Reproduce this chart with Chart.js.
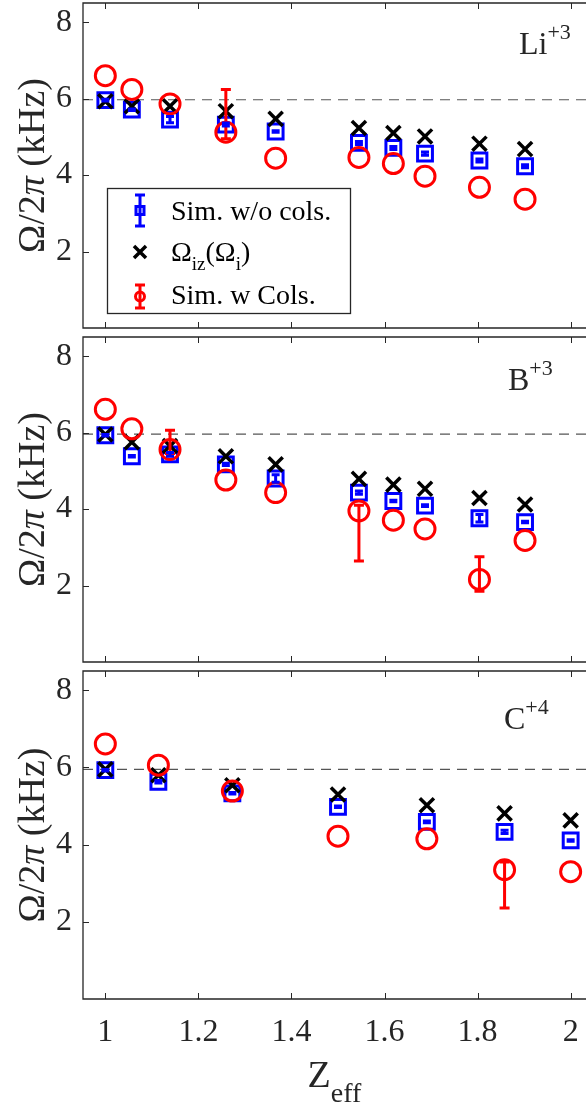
<!DOCTYPE html>
<html>
<head>
<meta charset="utf-8">
<script src="https://cdn.jsdelivr.net/npm/chart.js@4"></script>
<style>
  body { margin: 0; background: #fff; width: 586px; height: 1109px; overflow: hidden; position: relative; }
  canvas { position: absolute; left: 0; }
</style>
</head>
<body>
<canvas id="liChart" width="586" height="331" style="top:0"></canvas>
<canvas id="bChart" width="586" height="331" style="top:334px"></canvas>
<canvas id="cChart" width="586" height="441" style="top:668px"></canvas>
<script>
// Z_eff positions
const zLi = [1.0, 1.057, 1.139, 1.259, 1.366, 1.545, 1.619, 1.687, 1.804, 1.902];
const zB = [1.0, 1.057, 1.139, 1.259, 1.366, 1.545, 1.619, 1.687, 1.804, 1.902];
const zC = [1.0, 1.114, 1.273, 1.5, 1.691, 1.858, 2.0];

// Li+3
const noColLi = [5.96, 5.71, 5.45, 5.32, 5.14, 4.84, 4.71, 4.56, 4.38, 4.23];
const noColErrLi = [0.02, 0.02, 0.08, 0.04, 0.02, 0.04, 0.04, 0.04, 0.04, 0.04];
const omegaLi = [5.93, 5.80, 5.80, 5.67, 5.47, 5.23, 5.10, 5.01, 4.82, 4.68];
const colLi = [6.60, 6.24, 5.86, 5.12, 4.44, 4.46, 4.30, 3.97, 3.68, 3.37];
const colErrLoLi = [0, 0, 0, 0.17, 0, 0, 0, 0, 0, 0];
const colErrHiLi = [0, 0, 0, 1.12, 0, 0, 0, 0, 0, 0];

// B+3
const noColB = [5.93, 5.38, 5.43, 5.17, 4.80, 4.43, 4.21, 4.09, 3.76, 3.66];
const noColErrB = [0.02, 0.02, 0.05, 0.03, 0.10, 0.04, 0.02, 0.02, 0.10, 0.02];
const omegaB = [5.95, 5.75, 5.65, 5.38, 5.17, 4.79, 4.64, 4.53, 4.29, 4.12];
const colB = [6.61, 6.10, 5.56, 4.76, 4.43, 3.95, 3.71, 3.48, 2.16, 3.18];
const colErrLoB = [0, 0, 0.11, 0, 0, 1.31, 0, 0, 0.31, 0];
const colErrHiB = [0, 0, 0.50, 0, 0, 0.15, 0, 0, 0.59, 0];

// C+4
const noColC = [5.93, 5.63, 5.33, 4.98, 4.59, 4.33, 4.11];
const noColErrC = [0.02, 0.03, 0.02, 0.02, 0.02, 0.04, 0.02];
const omegaC = [5.95, 5.80, 5.54, 5.30, 5.02, 4.81, 4.63];
const colC = [6.61, 6.06, 5.39, 4.22, 4.15, 3.35, 3.30];
const colErrLoC = [0, 0, 0, 0, 0, 0.99, 0];
const colErrHiC = [0, 0, 0, 0, 0, 0.20, 0];

// dashed reference level in each panel
const refLevel = [5.97, 5.96, 5.95];

const xTickValues = [1, 1.2, 1.4, 1.6, 1.8, 2];
const yTickValues = [2, 4, 6, 8];
const xMin = 0.952, xMax = 2.033;

const serif = "'Liberation Serif', 'Times New Roman', serif";
const axisColor = "#262626";

function zip(xs, ys) {
  return xs.map((x, i) => ({ x: x, y: ys[i] }));
}

function drawErrBar(ctx, x, y1, y2, cap) {
  ctx.beginPath();
  ctx.moveTo(x, y1); ctx.lineTo(x, y2);
  ctx.moveTo(x - cap, y1); ctx.lineTo(x + cap, y1);
  ctx.moveTo(x - cap, y2); ctx.lineTo(x + cap, y2);
  ctx.stroke();
}

function drawRich(ctx, parts, x, y) {
  // parts: [text, font, dy]
  parts.forEach(p => {
    ctx.font = p[1];
    ctx.fillText(p[0], x, y + (p[2] || 0));
    x += ctx.measureText(p[0]).width;
  });
  return x;
}

const decor = {
  id: "panelDecor",
  afterDatasetsDraw(chart, args, opts) {
    const ctx = chart.ctx;
    const xs = chart.scales.x, ys = chart.scales.y;
    // error bars
    chart.data.datasets.forEach(ds => {
      if (!ds.errLo) return;
      ctx.save();
      ctx.strokeStyle = ds.borderColor;
      ctx.lineWidth = ds.errWidth;
      ds.data.forEach((p, i) => {
        const lo = ds.errLo[i], hi = ds.errHi[i];
        if (!lo && !hi) return;
        drawErrBar(ctx, xs.getPixelForValue(p.x), ys.getPixelForValue(p.y - lo),
          ys.getPixelForValue(p.y + hi), ds.errCap);
      });
      ctx.restore();
    });
  },
  afterDraw(chart, args, opts) {
    const ctx = chart.ctx;
    const a = chart.chartArea;
    const xs = chart.scales.x, ys = chart.scales.y;
    ctx.save();
    // frame
    ctx.strokeStyle = axisColor;
    ctx.lineWidth = 1.3;
    ctx.beginPath();
    ctx.moveTo(a.right + 2, a.top); ctx.lineTo(a.left, a.top);
    ctx.lineTo(a.left, a.bottom); ctx.lineTo(a.right + 2, a.bottom);
    ctx.stroke();
    // inward ticks
    ctx.lineWidth = 1;
    ctx.beginPath();
    xTickValues.forEach(v => {
      const px = Math.round(xs.getPixelForValue(v)) + 0.5;
      ctx.moveTo(px, a.top); ctx.lineTo(px, a.top + 6);
      ctx.moveTo(px, a.bottom); ctx.lineTo(px, a.bottom - 6);
    });
    yTickValues.forEach(v => {
      const py = Math.round(ys.getPixelForValue(v)) + 0.5;
      ctx.moveTo(a.left, py); ctx.lineTo(a.left + 6, py);
    });
    ctx.stroke();

    // y title
    ctx.fillStyle = axisColor;
    ctx.textBaseline = "alphabetic";
    const tf = "38px " + serif, ti = "italic 38px " + serif;
    const parts = [["\u03A9/2", tf], ["\u03C0", ti], [" (kHz)", tf]];
    let w = 0;
    parts.forEach(p => { ctx.font = p[1]; w += ctx.measureText(p[0]).width; });
    ctx.save();
    ctx.translate(44, (a.top + a.bottom) / 2);
    ctx.rotate(-Math.PI / 2);
    drawRich(ctx, parts, -w / 2, 0);
    ctx.restore();

    // ion label
    const ix = drawRich(ctx, [[opts.ion, "32px " + serif]], opts.ionX, a.top + opts.ionDy);
    drawRich(ctx, [[opts.charge, "22px " + serif]], ix, a.top + opts.ionDy - 15);

    // x title
    if (opts.xTitle) {
      ctx.font = "38px " + serif;
      const zw = ctx.measureText("Z").width;
      ctx.font = "28px " + serif;
      const ew = ctx.measureText("eff").width;
      const cx = (a.left + a.right) / 2 - (zw + ew) / 2;
      const zx = drawRich(ctx, [["Z", "38px " + serif]], cx, a.bottom + 88);
      drawRich(ctx, [["eff", "28px " + serif]], zx, a.bottom + 103);
    }

    // legend
    if (opts.legend) {
      const L = 107.5, T = 188.5, R = 350.5, B = 313.5;
      ctx.fillStyle = "#fff";
      ctx.fillRect(L, T, R - L, B - T);
      ctx.strokeStyle = axisColor;
      ctx.lineWidth = 1.3;
      ctx.strokeRect(L, T, R - L, B - T);
      const mx = 140;
      // blue entry
      ctx.strokeStyle = "#0000ff";
      ctx.lineWidth = 3;
      drawErrBar(ctx, mx, 195, 226, 5);
      ctx.strokeRect(mx - 4, 206.5, 8, 8);
      // black entry
      ctx.strokeStyle = "#000";
      ctx.lineWidth = 3.5;
      ctx.beginPath();
      ctx.moveTo(mx - 6, 246); ctx.lineTo(mx + 6, 258);
      ctx.moveTo(mx + 6, 246); ctx.lineTo(mx - 6, 258);
      ctx.stroke();
      // red entry
      ctx.strokeStyle = "#ff0000";
      ctx.lineWidth = 3;
      drawErrBar(ctx, mx, 285, 308, 5);
      ctx.beginPath();
      ctx.arc(mx, 296.5, 4.5, 0, Math.PI * 2);
      ctx.stroke();
      // texts
      ctx.fillStyle = "#000";
      const lf = "28px " + serif, sf = "19px " + serif;
      drawRich(ctx, [["Sim. w/o cols.", lf]], 171, 219.5);
      drawRich(ctx, [["\u03A9", lf], ["iz", sf, 9], ["(\u03A9", lf], ["i", sf, 9], [")", lf]], 171, 261);
      drawRich(ctx, [["Sim. w Cols.", lf]], 171, 303.5);
    }
    ctx.restore();
  }
};

function makePanel(id, z, noCol, noColErr, omega, col, colLo, colHi, ref, decorOpts, bottom) {
  const ctx = document.getElementById(id);
  return new Chart(ctx, {
    type: "scatter",
    data: {
      datasets: [
        {
          label: "Sim. w Cols.",
          data: zip(z, col),
          errLo: colLo, errHi: colHi, errCap: 5, errWidth: 3,
          pointStyle: "circle", pointRadius: 10, borderWidth: 3,
          borderColor: "#ff0000", backgroundColor: "rgba(0,0,0,0)",
          order: 1
        },
        {
          label: "Omega_iz",
          data: zip(z, omega),
          pointStyle: "crossRot", pointRadius: 10, borderWidth: 3.5,
          borderColor: "#000000", backgroundColor: "#000000",
          order: 2
        },
        {
          label: "Sim. w/o cols.",
          data: zip(z, noCol),
          errLo: noColErr, errHi: noColErr, errCap: 4, errWidth: 3,
          pointStyle: "rect", pointRadius: 10.5, borderWidth: 3,
          borderColor: "#0000ff", backgroundColor: "rgba(0,0,0,0)",
          order: 3
        },
        {
          type: "line",
          label: "ref",
          data: [{ x: xMin, y: ref }, { x: xMax, y: ref }],
          borderColor: "#555555", borderWidth: 1.2, borderDash: [10, 7],
          pointRadius: 0, order: 4
        }
      ]
    },
    options: {
      responsive: false,
      animation: false,
      events: [],
      layout: { autoPadding: false, padding: { top: 3, bottom: bottom ? 0 : 3, left: 0, right: 0 } },
      plugins: {
        legend: { display: false },
        tooltip: { enabled: false },
        panelDecor: decorOpts
      },
      scales: {
        x: {
          type: "linear",
          min: xMin, max: xMax,
          display: bottom,
          grid: { display: false, drawTicks: false },
          border: { display: false },
          afterBuildTicks: s => { s.ticks = xTickValues.map(v => ({ value: v })); },
          afterFit: s => {
            s.height = bottom ? 110 : 0;
            s.paddingLeft = 0; s.paddingRight = 0;
          },
          ticks: {
            padding: 14,
            color: axisColor,
            font: { family: serif, size: 32 },
            maxRotation: 0,
            callback: v => String(+v.toFixed(1))
          }
        },
        y: {
          type: "linear",
          min: 0, max: 8.5,
          grid: { display: false, drawTicks: false },
          border: { display: false },
          afterBuildTicks: s => { s.ticks = yTickValues.map(v => ({ value: v })); },
          afterFit: s => {
            s.width = 83;
            s.paddingTop = 0; s.paddingBottom = 0;
          },
          ticks: {
            padding: 11,
            color: axisColor,
            font: { family: serif, size: 32 },
            callback: v => String(v)
          }
        }
      }
    },
    plugins: [decor]
  });
}

makePanel("liChart", zLi, noColLi, noColErrLi, omegaLi, colLi, colErrLoLi, colErrHiLi, refLevel[0],
  { ion: "Li", charge: "+3", ionX: 519, ionDy: 51, legend: true }, false);
makePanel("bChart", zB, noColB, noColErrB, omegaB, colB, colErrLoB, colErrHiB, refLevel[1],
  { ion: "B", charge: "+3", ionX: 508, ionDy: 53 }, false);
makePanel("cChart", zC, noColC, noColErrC, omegaC, colC, colErrLoC, colErrHiC, refLevel[2],
  { ion: "C", charge: "+4", ionX: 504, ionDy: 58, xTitle: true }, true);
</script>
</body>
</html>
